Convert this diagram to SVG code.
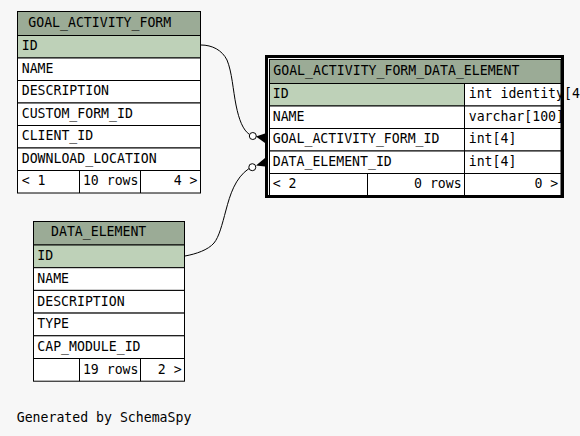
<svg xmlns="http://www.w3.org/2000/svg" width="580" height="436" viewBox="0 0 580 436">
<style>
text{font-family:"DejaVu Sans Mono","Liberation Mono",monospace;font-size:13.2px;fill:#000}
.hdr{fill:#9bab96;stroke:#000;stroke-width:1}
.pk{fill:#bed1b8;stroke:#000;stroke-width:1}
.c{fill:#fff;stroke:#000;stroke-width:1}
.ln{fill:none;stroke:#000;stroke-width:1}
.e{text-anchor:end}
</style>
<rect width="580" height="436" fill="#f7f7f7"/>
<g id="connectors">
<path class="ln" d="M201,45 C212,45 222,50 227,60 C232,72 233,90 236,105 C239,120 243,130 249.5,134.5"/>
<circle class="c" cx="252.8" cy="136" r="3.5"/>
<polygon points="256,136.5 265,133.5 265,143" fill="#000"/>
<path class="ln" d="M185,256 C196,254 208,250 214,243 C219,237 222,225 226,210 C230,195 235,178 249,168.5"/>
<circle class="c" cx="252.3" cy="167.2" r="3.5"/>
<polygon points="256,165.5 265,158 265,166.5" fill="#000"/>
</g>
<g id="GOAL_ACTIVITY_FORM">
<rect class="hdr" x="17.5" y="11.5" width="183" height="24"/>
<rect class="pk" x="17.5" y="35.5" width="183" height="22.5"/>
<rect class="c" x="17.5" y="58" width="183" height="22.5"/>
<rect class="c" x="17.5" y="80.5" width="183" height="22.5"/>
<rect class="c" x="17.5" y="103" width="183" height="22.5"/>
<rect class="c" x="17.5" y="125.5" width="183" height="22.5"/>
<rect class="c" x="17.5" y="148" width="183" height="22.5"/>
<rect class="c" x="17.5" y="170.5" width="183" height="22.5"/>
<line class="ln" x1="79.5" y1="170.5" x2="79.5" y2="193"/>
<line class="ln" x1="140.5" y1="170.5" x2="140.5" y2="193"/>
<text x="28.3" y="27">GOAL_ACTIVITY_FORM</text>
<text x="21.7" y="50.3">ID</text>
<text x="21.7" y="72.8">NAME</text>
<text x="21.7" y="95.3">DESCRIPTION</text>
<text x="21.7" y="117.8">CUSTOM_FORM_ID</text>
<text x="21.7" y="140.3">CLIENT_ID</text>
<text x="21.7" y="162.8">DOWNLOAD_LOCATION</text>
<text x="21.7" y="185.3">&lt; 1</text>
<text class="e" x="138.5" y="185.3">10 rows</text>
<text class="e" x="197.5" y="185.3">4 &gt;</text>
</g>
<g id="GOAL_ACTIVITY_FORM_DATA_ELEMENT">
<rect class="hdr" x="269.5" y="59.5" width="291.5" height="24"/>
<rect class="pk" x="269.5" y="83.5" width="195" height="22.5"/>
<rect class="c" x="464.5" y="83.5" width="96.5" height="22.5"/>
<rect class="c" x="269.5" y="106" width="195" height="22.5"/>
<rect class="c" x="464.5" y="106" width="96.5" height="22.5"/>
<rect class="c" x="269.5" y="128.5" width="195" height="22.5"/>
<rect class="c" x="464.5" y="128.5" width="96.5" height="22.5"/>
<rect class="c" x="269.5" y="151" width="195" height="22.5"/>
<rect class="c" x="464.5" y="151" width="96.5" height="22.5"/>
<rect class="c" x="269.5" y="173.5" width="291.5" height="22.5"/>
<line class="ln" x1="367.5" y1="173.5" x2="367.5" y2="196"/>
<line class="ln" x1="464.5" y1="173.5" x2="464.5" y2="196"/>
<text x="273.3" y="75">GOAL_ACTIVITY_FORM_DATA_ELEMENT</text>
<text x="272.7" y="98">ID</text>
<text x="468.7" y="98">int identity[4]</text>
<text x="272.7" y="120.5">NAME</text>
<text x="468.7" y="120.5">varchar[100]</text>
<text x="272.7" y="143">GOAL_ACTIVITY_FORM_ID</text>
<text x="468.7" y="143">int[4]</text>
<text x="272.7" y="165.5">DATA_ELEMENT_ID</text>
<text x="468.7" y="165.5">int[4]</text>
<text x="272.7" y="188">&lt; 2</text>
<text class="e" x="461.7" y="188">0 rows</text>
<text class="e" x="558.3" y="188">0 &gt;</text>
<rect x="266.5" y="56.5" width="296" height="140" fill="none" stroke="#000" stroke-width="3"/>
</g>
<g id="DATA_ELEMENT">
<rect class="hdr" x="33.5" y="221.5" width="151" height="23.5"/>
<rect class="pk" x="33.5" y="245" width="151" height="22.7"/>
<rect class="c" x="33.5" y="267.7" width="151" height="22.7"/>
<rect class="c" x="33.5" y="290.4" width="151" height="22.7"/>
<rect class="c" x="33.5" y="313.1" width="151" height="22.7"/>
<rect class="c" x="33.5" y="335.8" width="151" height="22.7"/>
<rect class="c" x="33.5" y="358.5" width="151" height="22.7"/>
<line class="ln" x1="79.5" y1="358.5" x2="79.5" y2="381.2"/>
<line class="ln" x1="140.5" y1="358.5" x2="140.5" y2="381.2"/>
<text x="51" y="236.3">DATA_ELEMENT</text>
<text x="37.3" y="260.3">ID</text>
<text x="37.3" y="283">NAME</text>
<text x="37.3" y="305.7">DESCRIPTION</text>
<text x="37.3" y="328.4">TYPE</text>
<text x="37.3" y="351.1">CAP_MODULE_ID</text>
<text class="e" x="138.5" y="373.8">19 rows</text>
<text class="e" x="181.7" y="373.8">2 &gt;</text>
</g>
<text x="16.7" y="422.3">Generated by SchemaSpy</text>
</svg>
